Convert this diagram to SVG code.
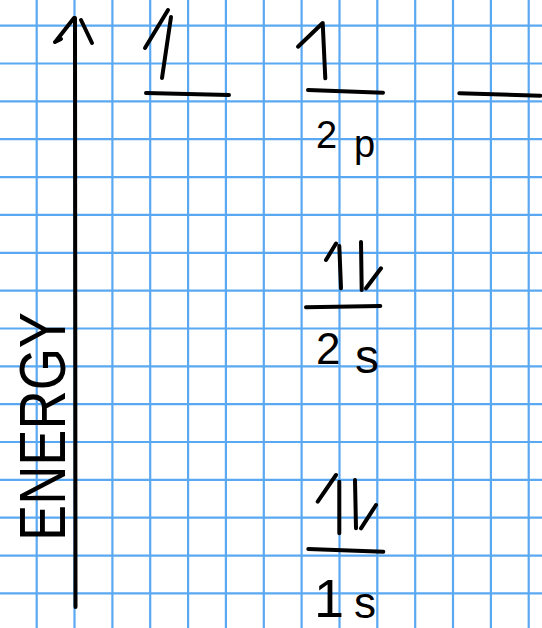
<svg xmlns="http://www.w3.org/2000/svg" width="542" height="628" viewBox="0 0 542 628">
<defs>
<style>
.grid line{stroke:#5aa8f2;stroke-width:2.2}
.ink{fill:none;stroke:#000;stroke-width:4;stroke-linecap:round;stroke-linejoin:round}
.lbl{font-family:"Liberation Sans","DejaVu Sans",sans-serif;fill:#000}
</style>
</defs>
<rect x="0" y="0" width="542" height="628" fill="#ffffff"/>
<g id="grid" class="grid">
<line x1="36.7" y1="0" x2="36.7" y2="628"/>
<line x1="74.5" y1="0" x2="74.5" y2="628"/>
<line x1="112.4" y1="0" x2="112.4" y2="628"/>
<line x1="150.2" y1="0" x2="150.2" y2="628"/>
<line x1="188.1" y1="0" x2="188.1" y2="628"/>
<line x1="225.9" y1="0" x2="225.9" y2="628"/>
<line x1="263.8" y1="0" x2="263.8" y2="628"/>
<line x1="301.6" y1="0" x2="301.6" y2="628"/>
<line x1="339.5" y1="0" x2="339.5" y2="628"/>
<line x1="377.3" y1="0" x2="377.3" y2="628"/>
<line x1="415.2" y1="0" x2="415.2" y2="628"/>
<line x1="453" y1="0" x2="453" y2="628"/>
<line x1="490.9" y1="0" x2="490.9" y2="628"/>
<line x1="528.7" y1="0" x2="528.7" y2="628"/>
<line x1="0" y1="25.7" x2="542" y2="25.7"/>
<line x1="0" y1="63.5" x2="542" y2="63.5"/>
<line x1="0" y1="101.4" x2="542" y2="101.4"/>
<line x1="0" y1="139.2" x2="542" y2="139.2"/>
<line x1="0" y1="177.1" x2="542" y2="177.1"/>
<line x1="0" y1="214.9" x2="542" y2="214.9"/>
<line x1="0" y1="252.8" x2="542" y2="252.8"/>
<line x1="0" y1="290.6" x2="542" y2="290.6"/>
<line x1="0" y1="328.5" x2="542" y2="328.5"/>
<line x1="0" y1="366.3" x2="542" y2="366.3"/>
<line x1="0" y1="404.2" x2="542" y2="404.2"/>
<line x1="0" y1="442" x2="542" y2="442"/>
<line x1="0" y1="479.9" x2="542" y2="479.9"/>
<line x1="0" y1="517.7" x2="542" y2="517.7"/>
<line x1="0" y1="555.6" x2="542" y2="555.6"/>
<line x1="0" y1="593.4" x2="542" y2="593.4"/>
</g>
<g id="connectors">
<g id="energy-axis" class="ink">
<path d="M75,18 L75.5,607"/>
<path d="M74,18 L56,41 M55,42 L61,39"/>
<path d="M81,20 L92,43"/>
</g>
</g>
<g id="energy-label">
<text class="lbl" transform="translate(65,541) rotate(-90)" x="0" y="0" font-size="64" textLength="229" lengthAdjust="spacingAndGlyphs">ENERGY</text>
</g>
<g id="level-2p-x" class="ink">
<path d="M146,93 L229,95"/>
<path d="M145,48 L168,10 M171,17 L162,78"/>
</g>
<g id="level-2p-y">
<path class="ink" d="M308,90 L383,92.7"/>
<path class="ink" d="M298,46.7 L322.7,23 L325.3,78.3"/>
<text class="lbl"><tspan x="316" y="148" font-size="38">2</tspan><tspan x="354" y="157" font-size="38">p</tspan></text>
</g>
<g id="level-2p-z" class="ink">
<path d="M459.3,93.3 L540.3,95.7"/>
</g>
<g id="level-2s">
<path class="ink" d="M306,307.3 L380.3,306"/>
<path class="ink" d="M326,260 L336,243.5 M339.3,246 L341,288.3"/>
<path class="ink" d="M361,242 L361.7,290 M366,288.3 L381,268.3"/>
<text class="lbl"><tspan x="316" y="364" font-size="44">2</tspan><tspan x="355" y="373" font-size="48">s</tspan></text>
</g>
<g id="level-1s">
<path class="ink" d="M308.3,549 L383.3,551.7"/>
<path class="ink" d="M317.7,501.7 L336,475 M339.3,481.7 L339.3,533.3"/>
<path class="ink" d="M355,480 L356,528.3 M361,528.3 L376,505"/>
<text class="lbl"><tspan x="314" y="617" font-size="54">1</tspan><tspan x="354" y="618" font-size="44">s</tspan></text>
</g>
</svg>
